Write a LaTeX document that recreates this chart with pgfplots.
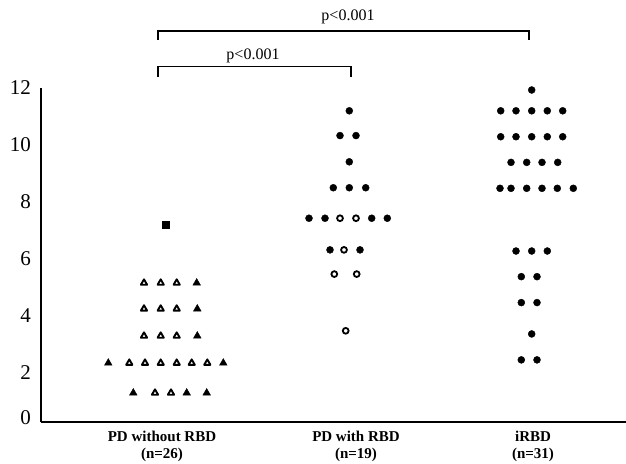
\documentclass[border=0pt]{standalone}
\usepackage{pgfplots}
\pgfplotsset{compat=1.18}
\usepackage{fontspec}
\setmainfont{Liberation Serif}
\begin{document}
\begin{tikzpicture}
\begin{axis}[
  name=ax,
  at={(0,0)}, anchor=south west,
  scale only axis,
  width=585pt, height=334pt,
  xmin=41, xmax=626,
  ymin=0.28, ymax=12,
  axis lines=left,
  axis line style={-, line width=1.8pt},
  major tick length=0pt,
  clip=false,
  xtick={162,356,533},
  xticklabels={{PD without RBD\\(n=26)},{PD with RBD\\(n=19)},{iRBD\\(n=31)}},
  xticklabel style={font=\fontsize{15}{17}\selectfont\bfseries, align=center, inner sep=0pt, yshift=-9pt},
  ytick={0.45,2,4,6,8,10,12},
  yticklabels={0,2,4,6,8,10,12},
  yticklabel style={font=\fontsize{21}{21}\selectfont, inner sep=0pt, xshift=-10pt},
  /pgf/number format/assume math mode=true,
]
% PD without RBD: filled triangles
\addplot[only marks, mark=triangle*, mark size=4.4pt, color=black] coordinates {
 (196.7,5.16) (197.3,4.25) (197.3,3.30) (108.3,2.35) (223.3,2.35)
 (133.3,1.30) (186.7,1.30) (206.7,1.30)
};
% PD without RBD: open triangles
\addplot[only marks, mark=triangle*, mark size=3.6pt, mark options={draw=black, fill=white, line width=1.9pt, line join=round}] coordinates {
 (144,5.16) (160.7,5.16) (176.7,5.16)
 (144,4.25) (160.7,4.25) (176.7,4.25)
 (144,3.30) (160.7,3.30) (176.7,3.30)
 (129.3,2.35) (145,2.35) (160.7,2.35) (176.7,2.35) (191.7,2.35) (207.3,2.35)
 (155,1.30) (171,1.30)
};
% PD without RBD: filled square
\addplot[only marks, mark=square*, mark size=3.4pt, color=black] coordinates {(166,7.19)};
% PD with RBD: filled circles
\addplot[only marks, mark=*, mark size=3.5pt, color=black] coordinates {
 (349.3,11.2) (340,10.33) (356,10.33) (349.3,9.41)
 (333.3,8.5) (349.3,8.5) (365.7,8.5)
 (309,7.43) (325,7.43) (371.7,7.43) (387.3,7.43)
 (330,6.32) (360,6.32)
};
% PD with RBD: open circles
\addplot[only marks, mark=*, mark size=2.9pt, mark options={draw=black, fill=white, line width=1.8pt}] coordinates {
 (340,7.43) (356,7.43) (344,6.32) (334.3,5.47) (356.7,5.47) (345.7,3.48)
};
% iRBD: filled circles
\addplot[only marks, mark=*, mark size=3.5pt, color=black] coordinates {
 (531.7,11.93)
 (500.7,11.2) (516,11.2) (531.7,11.2) (547.3,11.2) (562.7,11.2)
 (500.7,10.29) (516,10.29) (531.7,10.29) (547.3,10.29) (562.7,10.29)
 (511,9.39) (526.7,9.39) (542,9.39) (557.7,9.39)
 (500,8.48) (511,8.48) (526.7,8.48) (542,8.48) (557.3,8.48) (573.3,8.48)
 (516,6.28) (531.7,6.28) (547.3,6.28)
 (521.3,5.38) (537,5.38)
 (521.3,4.47) (537,4.47)
 (531.7,3.37)
 (521.3,2.46) (537,2.46)
};
% significance brackets
\draw[line width=1.1pt] (axis cs:158,13.68) -- (axis cs:158,14.0) -- (axis cs:529,14.0) -- (axis cs:529,13.68);
\node[font=\fontsize{16}{16}\selectfont] at (axis cs:348,14.48) {p<0.001};
\draw[line width=1.1pt] (axis cs:158,12.39) -- (axis cs:158,12.74) -- (axis cs:351,12.74) -- (axis cs:351,12.39);
\node[font=\fontsize{16}{16}\selectfont] at (axis cs:253,13.12) {p<0.001};
\end{axis}
\pgfresetboundingbox
\path ([xshift=-41pt,yshift=-41pt]ax.south west) rectangle ([xshift=585pt,yshift=422pt]ax.south west);
\end{tikzpicture}
\end{document}
